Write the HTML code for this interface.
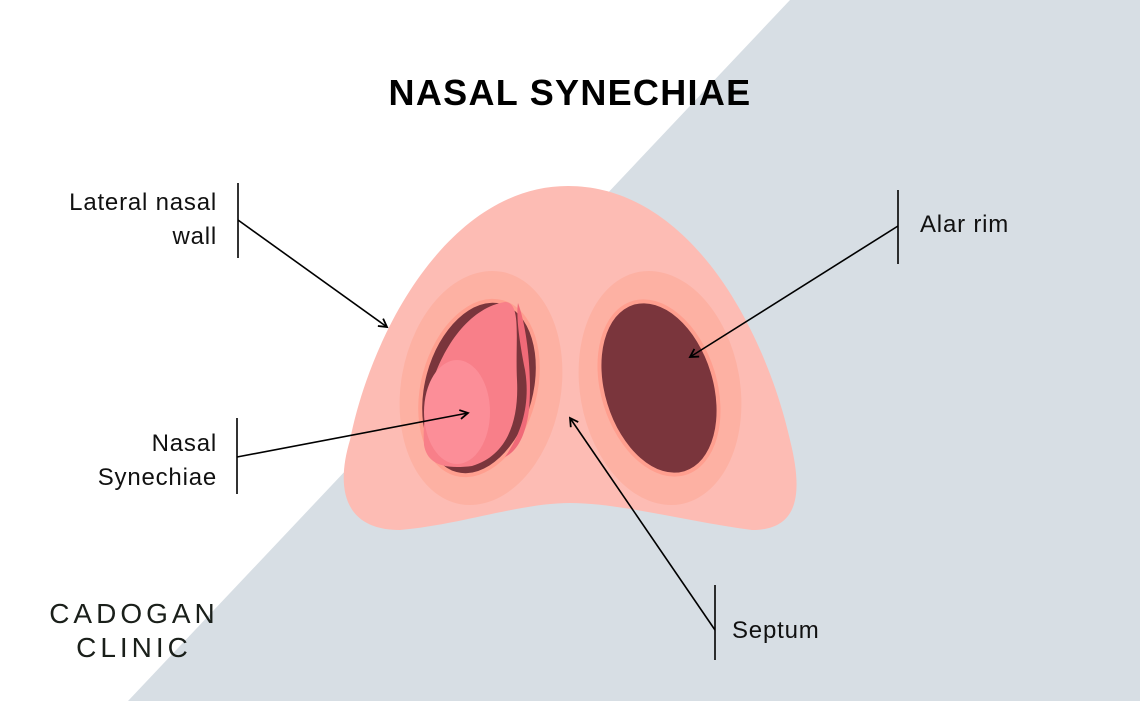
<!DOCTYPE html>
<html><head><style>
body{margin:0;width:1140px;height:701px;overflow:hidden;background:#fff;font-family:"Liberation Sans",sans-serif}
.t{position:absolute;font-size:24px;color:#111;line-height:34px;letter-spacing:0.8px}
</style></head><body>
<svg width="1140" height="701" style="position:absolute;left:0;top:0">
<defs><marker id="a" markerWidth="12" markerHeight="12" refX="9" refY="6" orient="auto" markerUnits="userSpaceOnUse"><path d="M1,1.5 L9,6 L1,10.5" fill="none" stroke="#000" stroke-width="1.8"/></marker></defs>
<polygon points="790,0 1140,0 1140,701 128,701" fill="#d7dee4"/>
<path d="M400,530 C345,530 335,490 350,440 C372,330 450,186 568,186 C690,186 765,330 790,440 C805,500 795,530 752,530 C690,522 620,503 570,503 C520,503 460,525 400,530 Z" fill="#fdbcb4"/>
<ellipse cx="481" cy="388" rx="80" ry="118" transform="rotate(10 481 388)" fill="#fdb1a3"/>
<ellipse cx="660" cy="388" rx="80" ry="118" transform="rotate(-10 660 388)" fill="#fdb1a3"/>
<ellipse cx="479" cy="388" rx="58" ry="91" transform="rotate(15 479 388)" fill="#ff9f8f"/>
<ellipse cx="479" cy="388" rx="54" ry="87" transform="rotate(15 479 388)" fill="#7a353c"/>
<path d="M424,445 C420,385 455,310 505,302 C522,302 515,340 517,380 C519,420 508,455 472,466 C440,470 427,462 424,445 Z" fill="#f87f89"/>
<path d="M505,457 C524,430 530,400 525,370 C519,340 516,315 518,303 C528,330 532,380 529,410 C525,440 515,452 505,457Z" fill="#f06a78"/>
<ellipse cx="457" cy="412" rx="33" ry="52" fill="#fc8e98"/>
<ellipse cx="659" cy="388" rx="58" ry="91" transform="rotate(-17 659 388)" fill="#ff9f8f"/>
<ellipse cx="659" cy="388" rx="54" ry="87" transform="rotate(-17 659 388)" fill="#7a353c"/>
<g stroke="#000" stroke-width="1.6" fill="none">
<line x1="238" y1="183" x2="238" y2="258"/><line x1="238" y1="220" x2="387" y2="327" marker-end="url(#a)"/>
<line x1="898" y1="190" x2="898" y2="264"/><line x1="898" y1="226" x2="690" y2="357" marker-end="url(#a)"/>
<line x1="237" y1="418" x2="237" y2="494"/><line x1="237" y1="457" x2="468" y2="413" marker-end="url(#a)"/>
<line x1="715" y1="585" x2="715" y2="660"/><line x1="715" y1="630" x2="570" y2="418" marker-end="url(#a)"/>
</g>
</svg>
<div class="t" style="left:0;width:1140px;top:72px;text-align:center;font-weight:bold;font-size:36px;color:#000;line-height:42px;letter-spacing:1.3px">NASAL SYNECHIAE</div>
<div class="t" style="right:923px;top:186px;text-align:right">Lateral nasal<br>wall</div>
<div class="t" style="left:920px;top:208px">Alar rim</div>
<div class="t" style="right:923px;top:427px;text-align:right">Nasal<br>Synechiae</div>
<div class="t" style="left:732px;top:614px">Septum</div>
<div class="t" style="left:49px;top:597px;font-size:28px;letter-spacing:4px;color:#1a1f1a;line-height:34px;text-align:center;width:170px">CADOGAN<br>CLINIC</div>
</body></html>
